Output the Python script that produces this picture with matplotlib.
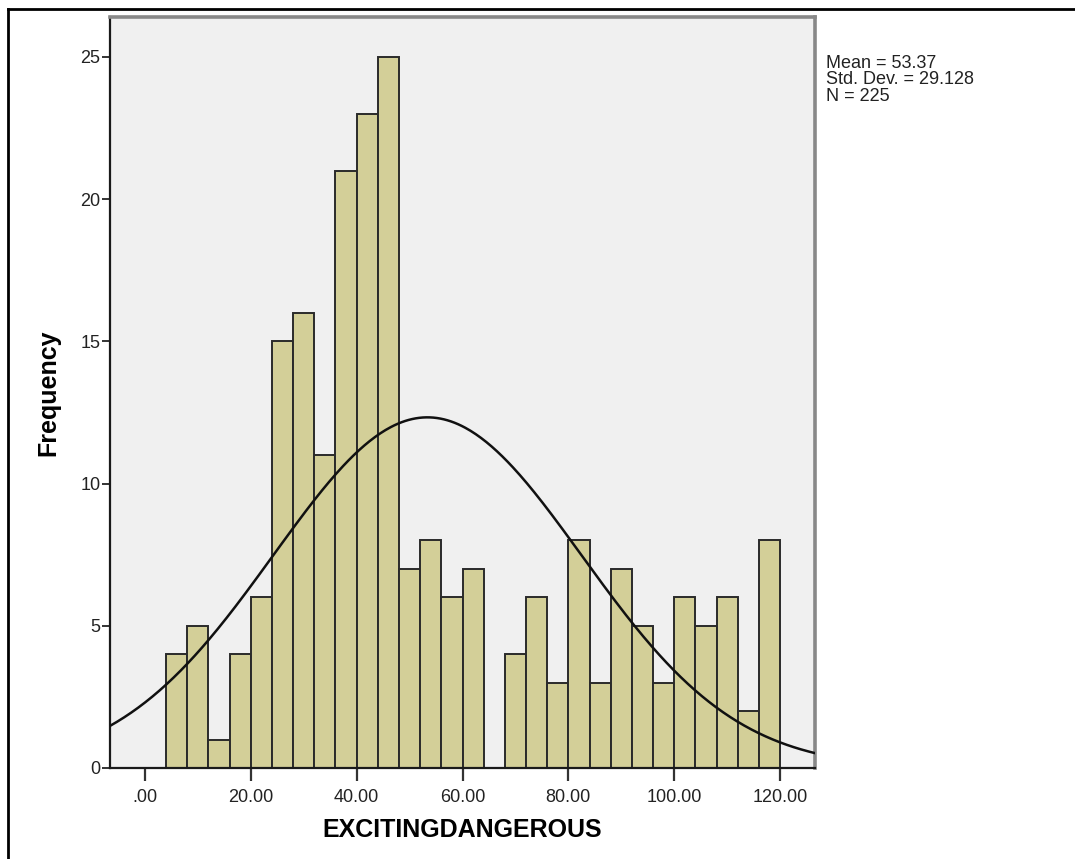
import numpy as np
import matplotlib
matplotlib.use("Agg")
import matplotlib.pyplot as plt
from matplotlib.lines import Line2D

plt.rcParams['font.family'] = ['Liberation Sans', 'DejaVu Sans']

# Histogram of EXCITINGDANGEROUS (bin width 4)
bin_edges = [4, 8, 12, 16, 20, 24, 28, 32, 36, 40, 44, 48, 52, 56, 60, 64,
             68, 72, 76, 80, 84, 88, 92, 96, 100, 104, 108, 112, 116, 120]
counts = [4, 5, 1, 4, 6, 15, 16, 11, 21, 23, 25, 7, 8, 6, 7, 0,
          4, 6, 3, 8, 3, 7, 5, 3, 6, 5, 6, 2, 8]
mean_val = 53.37
std_val = 29.128
n_val = 225
x_ticks = [0, 20, 40, 60, 80, 100, 120]
x_tick_labels = [".00", "20.00", "40.00", "60.00", "80.00", "100.00", "120.00"]
y_ticks = [0, 5, 10, 15, 20, 25]

fig = plt.figure(figsize=(10.75, 8.59), dpi=100)
fig.patch.set_facecolor("white")
ax = fig.add_axes([110 / 1075, 1 - 768 / 859, (815 - 110) / 1075, (768 - 17) / 859])
ax.set_facecolor("#F0F0F0")

edges = np.array(bin_edges, dtype=float)
widths = np.diff(edges)
ax.bar(edges[:-1], counts, width=widths, align="edge",
       color="#D3CF98", edgecolor="#2A2A2A", linewidth=1.4, zorder=2)

# Fitted normal curve scaled to counts
xlim = (-6.6, 126.6)
xs = np.linspace(xlim[0], xlim[1], 400)
bw = widths[0]
ys = n_val * bw / (std_val * np.sqrt(2 * np.pi)) * np.exp(-0.5 * ((xs - mean_val) / std_val) ** 2)
ax.plot(xs, ys, color="#111111", linewidth=1.8, zorder=3)

ax.set_xlim(*xlim)
ax.set_ylim(0, 26.4)
ax.set_xticks(x_ticks)
ax.set_xticklabels(x_tick_labels)
ax.set_yticks(y_ticks)
ax.tick_params(axis="x", direction="out", length=9, width=1.6, color="#333333",
               labelsize=13, labelcolor="#222222", pad=6)
ax.tick_params(axis="y", direction="out", length=6, width=1.4, color="#333333",
               labelsize=13, labelcolor="#222222", pad=1)

for side in ("top", "right"):
    ax.spines[side].set_color("#888888")
    ax.spines[side].set_linewidth(2.6)
for side in ("left", "bottom"):
    ax.spines[side].set_color("#1A1A1A")
    ax.spines[side].set_linewidth(1.6)

ax.set_xlabel("EXCITINGDANGEROUS", fontsize=18, fontweight="bold", labelpad=9)
ax.set_ylabel("Frequency", fontsize=18, fontweight="bold", labelpad=14)

fig.text(826 / 1075, 1 - 55 / 859,
         f"Mean = {mean_val:.2f}\nStd. Dev. = {std_val:.3f}\nN = {n_val}",
         fontsize=13, color="#222222", va="top", ha="left", linespacing=0.95)

# Surrounding frame lines
fig.add_artist(Line2D([8 / 1075, 1.0], [1 - 9 / 859, 1 - 9 / 859],
                      transform=fig.transFigure, color="black", linewidth=2))
fig.add_artist(Line2D([8 / 1075, 8 / 1075], [1 - 9 / 859, 0.0],
                      transform=fig.transFigure, color="black", linewidth=2))

fig.savefig("out.png", dpi=100, facecolor="white")
